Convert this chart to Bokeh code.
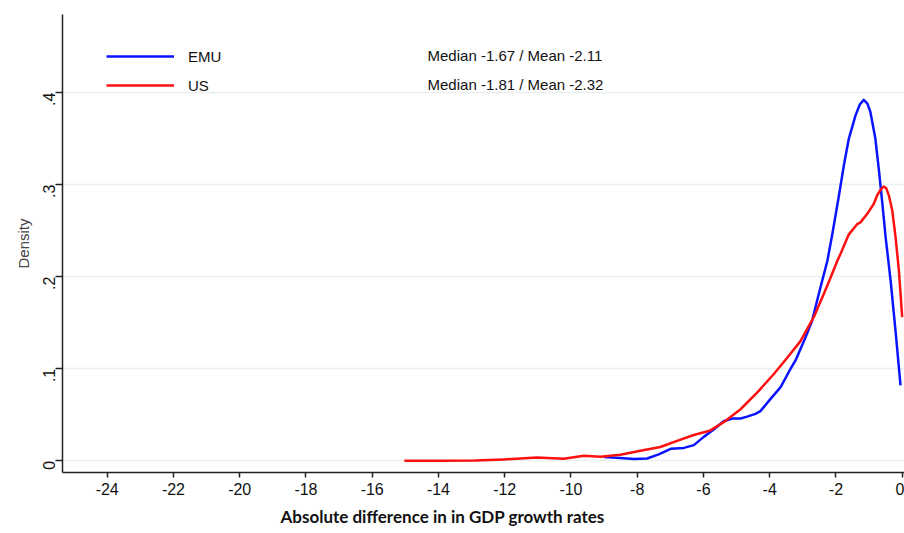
from bokeh.plotting import figure
from bokeh.models import Range1d, FixedTicker, Legend, LegendItem, Label, Title
from bokeh.embed import file_html
from bokeh.resources import INLINE
import math

# EMU kernel density
emu_x = [-9.0, -8.51, -8.10, -7.70, -7.35, -6.99, -6.59, -6.29, -5.99, -5.69, -5.39, -5.13,
         -4.88, -4.68, -4.43, -4.28, -3.98, -3.67, -3.37, -3.22, -2.92, -2.72, -2.52, -2.26,
         -2.11, -1.91, -1.76, -1.61, -1.41, -1.28, -1.16, -1.05, -0.96, -0.81, -0.70, -0.60,
         -0.50, -0.35, -0.20, -0.05]
emu_y = [0.004, 0.003, 0.002, 0.0025, 0.007, 0.013, 0.014, 0.017, 0.026, 0.034, 0.043, 0.046,
         0.046, 0.048, 0.051, 0.054, 0.067, 0.080, 0.100, 0.109, 0.134, 0.152, 0.181, 0.217,
         0.246, 0.288, 0.321, 0.350, 0.375, 0.387, 0.392, 0.388, 0.379, 0.350, 0.315, 0.280,
         0.243, 0.196, 0.141, 0.082]

# US kernel density
us_x = [-15.03, -13.94, -12.9, -12.03, -11.03, -10.22, -9.61, -9.11, -8.51, -7.90, -7.30,
        -6.69, -6.29, -5.79, -5.39, -4.88, -4.38, -3.88, -3.47, -3.07, -2.67, -2.37, -2.16,
        -1.96, -1.86, -1.61, -1.36, -1.26, -1.06, -0.86, -0.76, -0.66, -0.56, -0.48, -0.40,
        -0.30, -0.20, -0.10, 0.0]
us_y = [0.000, 0.000, 0.0003, 0.0015, 0.0036, 0.0022, 0.0054, 0.0045, 0.0065, 0.011, 0.015,
        0.023, 0.028, 0.033, 0.042, 0.056, 0.074, 0.094, 0.112, 0.130, 0.156, 0.181, 0.199,
        0.217, 0.225, 0.246, 0.257, 0.259, 0.268, 0.279, 0.288, 0.294, 0.298, 0.296, 0.288,
        0.272, 0.243, 0.207, 0.156]

x_ticks = [-24, -22, -20, -18, -16, -14, -12, -10, -8, -6, -4, -2, 0]
x_tick_labels = ["-24", "-22", "-20", "-18", "-16", "-14", "-12", "-10", "-8", "-6", "-4", "-2", "0"]
y_ticks = [0, 0.1, 0.2, 0.3, 0.4]
y_tick_labels = ["0", ".1", ".2", ".3", ".4"]

series_names = ["EMU", "US"]
series_stats = ["Median -1.67 / Mean -2.11", "Median -1.81 / Mean -2.32"]
series_colors = ["#0a14ff", "#ff1010"]

p = figure(width=904, height=533, output_backend="svg", toolbar_location=None,
           x_range=Range1d(-25.35, 0.07), y_range=Range1d(-0.0127, 0.4848),
           min_border_left=62, min_border_right=0, min_border_top=14, min_border_bottom=61)
p.outline_line_color = None
p.background_fill_color = "white"
p.border_fill_color = "white"

r1 = p.line(emu_x, emu_y, line_color=series_colors[0], line_width=2.5, line_join="round")
r2 = p.line(us_x, us_y, line_color=series_colors[1], line_width=2.5, line_join="round")

p.xgrid.grid_line_color = None
p.ygrid.grid_line_color = "#e8f0f0"
p.ygrid.grid_line_width = 1.5

p.xaxis.ticker = FixedTicker(ticks=x_ticks)
p.xaxis.major_label_overrides = dict(zip(x_ticks, x_tick_labels))
p.yaxis.ticker = FixedTicker(ticks=y_ticks)
p.yaxis.major_label_overrides = dict(zip(y_ticks, y_tick_labels))
p.yaxis.major_label_orientation = math.pi / 2

for ax in (p.xaxis[0], p.yaxis[0]):
    ax.axis_line_color = "#222222"
    ax.axis_line_width = 1.5
    ax.major_tick_line_color = "#222222"
    ax.major_tick_line_width = 1.5
    ax.major_tick_in = 0
    ax.minor_tick_line_color = None
    ax.major_label_text_font = "Liberation Sans"
    ax.major_label_text_font_size = "16px"
    ax.major_label_text_color = "#111111"
p.xaxis.major_tick_out = 5
p.xaxis.major_label_standoff = 5
p.yaxis.major_tick_out = 7
p.yaxis.major_label_standoff = 6

p.yaxis.axis_label = "Density"
p.yaxis.axis_label_text_font = "Liberation Sans"
p.yaxis.axis_label_text_font_style = "normal"
p.yaxis.axis_label_text_font_size = "15px"
p.yaxis.axis_label_standoff = 3

xtitle = Title(text="Absolute difference in in GDP growth rates", align="left", offset=218,
               text_font="Lato", text_font_style="bold", text_font_size="17px",
               text_color="#111111", standoff=12)
p.add_layout(xtitle, "below")

legend = Legend(items=[LegendItem(label=series_names[0], renderers=[r1]),
                       LegendItem(label=series_names[1], renderers=[r2])],
                location=(44, 377), orientation="vertical")
legend.border_line_color = None
legend.background_fill_alpha = 0
legend.padding = 0
legend.margin = 0
legend.spacing = 9
legend.glyph_width = 68
legend.glyph_height = 20
legend.label_height = 20
legend.label_standoff = 14
legend.label_text_font = "Liberation Sans"
legend.label_text_font_size = "15px"
legend.label_text_color = "#111111"
p.add_layout(legend)

stat_y = [0.440, 0.409]
for s, yy in zip(series_stats, stat_y):
    p.add_layout(Label(x=-14.33, y=yy, text=s, text_font="Liberation Sans",
                       text_font_size="15px", text_baseline="middle", text_align="left",
                       text_color="#111111"))

open("out.html", "w").write(file_html(p, INLINE))
